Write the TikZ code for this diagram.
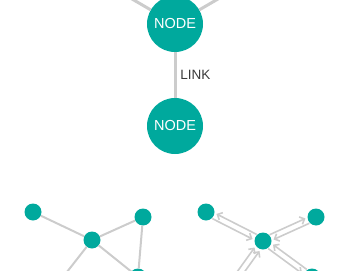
\documentclass[tikz,border=0pt]{standalone}
\usepackage{fontspec}
\setmainfont{Liberation Sans}
\usetikzlibrary{arrows.meta}
\definecolor{teal}{HTML}{00A99D}
\definecolor{edge}{HTML}{CCCCCC}
\definecolor{label}{HTML}{3A3A3A}
\tikzset{
  big/.style={circle, fill=teal, minimum size=56pt, inner sep=0pt,
    text=white, font=\fontsize{14.5}{14.5}\selectfont},
  dot/.style={circle, fill=teal, minimum size=17pt, inner sep=0pt},
  thick edge/.style={draw=edge, line width=3pt},
  thin edge/.style={draw=edge, line width=2pt},
  dir edge/.style={draw=edge, line width=1.6pt,
    -{Straight Barb[length=4pt,width=8pt]}, shorten >=1.5pt},
}
\begin{document}
\begin{tikzpicture}[x=1pt, y=-1pt]
  \useasboundingbox (0,0) rectangle (350,270);
  \clip (0,0) rectangle (350,270);

  % upper pair of large nodes
  \node[big] (top) at (175,24) {NODE};
  \node[big] (bottom) at (175,126) {NODE};
  \coordinate (tl) at (120,-8);
  \coordinate (tr) at (230,-8);
  \draw[thick edge] (top) -- (tl);
  \draw[thick edge] (top) -- (tr);
  \draw[thick edge] (top) -- node[right=0.5pt, text=label,
    font=\fontsize{13.5}{13.5}\selectfont] {LINK} (bottom);

  % undirected small graph
  \node[dot] (a1) at (33,212) {};
  \node[dot] (a2) at (92,240) {};
  \node[dot] (a3) at (143,217) {};
  \node[dot] (a4) at (138,277) {};
  \coordinate (a5) at (56,286);
  \draw[thin edge] (a1) -- (a2);
  \draw[thin edge] (a2) -- (a3);
  \draw[thin edge] (a3) -- (a4);
  \draw[thin edge] (a2) -- (a4);
  \draw[thin edge] (a2) -- (a5);

  % directed small graph, edges in both directions
  \node[dot] (b1) at (206,212) {};
  \node[dot] (b2) at (263,241) {};
  \node[dot] (b3) at (316,217) {};
  \node[dot] (b4) at (312,277) {};
  \coordinate (b5) at (222,298);
  \draw[dir edge, transform canvas={shift={(1.35pt,2.7pt)}}] (b2) -- (b1);
  \draw[dir edge, transform canvas={shift={(-1.35pt,-2.7pt)}}] (b1) -- (b2);
  \draw[dir edge, transform canvas={shift={(-1.24pt,2.73pt)}}] (b2) -- (b3);
  \draw[dir edge, transform canvas={shift={(1.24pt,-2.73pt)}}] (b3) -- (b2);
  \draw[dir edge, transform canvas={shift={(1.78pt,2.42pt)}}] (b4) -- (b2);
  \draw[dir edge, transform canvas={shift={(-1.78pt,-2.42pt)}}] (b2) -- (b4);
  \draw[dir edge, transform canvas={shift={(2.43pt,-1.77pt)}}] (b5) -- (b2);
  \draw[dir edge, transform canvas={shift={(-2.43pt,1.77pt)}}] (b5) -- (b2);
\end{tikzpicture}
\end{document}
